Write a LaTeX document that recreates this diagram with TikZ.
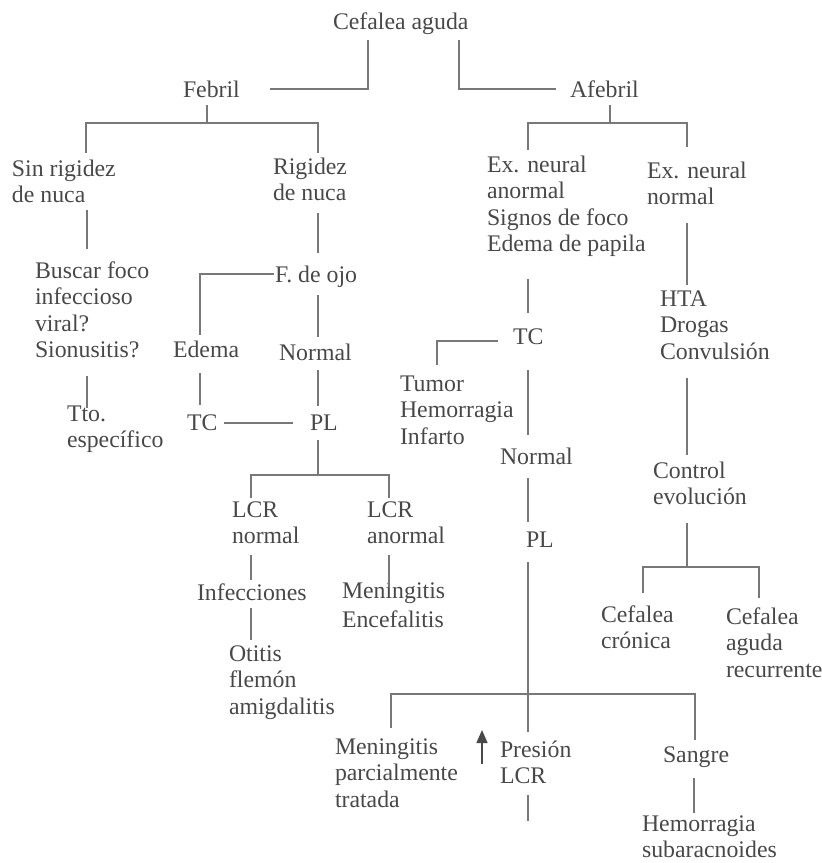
\documentclass[tikz,border=0pt]{standalone}
\usepackage{fontspec}
\setmainfont{Liberation Serif}
\usetikzlibrary{arrows.meta}
\definecolor{inkgray}{RGB}{72,72,72}
\definecolor{wiregray}{RGB}{120,120,120}
\begin{document}
\begin{tikzpicture}[x=1pt,y=-1pt,
  lbl/.style={anchor=north west, inner sep=0pt, outer sep=0pt, yshift=11.5pt,
    align=left, text=inkgray, font=\fontsize{23.8pt}{26.5pt}\selectfont,
    execute at begin node=\strut},
  conn/.style={draw=wiregray, line width=1.4pt}]
\useasboundingbox (0,0) rectangle (822,863);

% ---------- labels ----------
\node[lbl] (root)    at (333,22)  {Cefalea aguda};
\node[lbl] (febril)  at (183,90)  {Febril};
\node[lbl] (afebril) at (570,90)  {Afebril};
\node[lbl] (sinrig)  at (12,171)  {Sin rigidez\\de nuca};
\node[lbl] (rigidez) at (273,169) {Rigidez\\de nuca};
\node[lbl] (buscar)  at (35,273)  {Buscar foco\\infeccioso\\viral?\\Sionusitis?};
\node[lbl] (tto)     at (67,417)  {Tto.\\específico};
\node[lbl] (fojo)    at (275,275) {F. de ojo};
\node[lbl] (edema)   at (173,350) {Edema};
\node[lbl] (normA)   at (279,353) {Normal};
\node[lbl] (tcA)     at (187,423) {TC};
\node[lbl] (plA)     at (310,423) {PL};
\node[lbl] (lcrn)    at (232,513) {LCR\\normal};
\node[lbl] (lcra)    at (367,513) {LCR\\anormal};
\node[lbl] (infec)   at (197,593) {Infecciones};
\node[lbl] (menin)   at (342,594) {Meningitis\\[3pt]Encefalitis};
\node[lbl] (otitis)  at (229,657) {Otitis\\flemón\\amigdalitis};
\node[lbl] (exab)    at (487,167) {Ex. neural\\anormal\\Signos de foco\\Edema de papila};
\node[lbl] (exno)    at (647,173) {Ex. neural\\normal};
\node[lbl] (tcB)     at (513,337) {TC};
\node[lbl] (tumor)   at (400,387) {Tumor\\Hemorragia\\Infarto};
\node[lbl] (normB)   at (500,457) {Normal};
\node[lbl] (plB)     at (526,540) {PL};
\node[lbl] (mpt)     at (335,750) {Meningitis\\parcialmente\\tratada};
\node[lbl] (pres)    at (500,752) {Presión\\LCR};
\node[lbl] (sangre)  at (663,755) {Sangre};
\node[lbl] (hsa)     at (642,827) {Hemorragia\\subaracnoides};
\node[lbl] (hta)     at (660,302) {HTA\\Drogas\\Convulsión};
\node[lbl] (ctrl)    at (653,473) {Control\\evolución};
\node[lbl] (cron)    at (601,617) {Cefalea\\crónica};
\node[lbl] (recu)    at (726,619) {Cefalea\\aguda\\recurrente};

% ---------- connector end points ----------
\path (368,40) coordinate (rootL) (270,89) coordinate (febE)
      (459,40) coordinate (rootR) (556,89) coordinate (afeW)
      (207,105) coordinate (febS) (207,123) coordinate (febJ)
      (86,153) coordinate (sinN) (318,153) coordinate (rigN)
      (87,210) coordinate (sinS) (87,249) coordinate (busN)
      (87,376) coordinate (busS) (87,408) coordinate (ttoN)
      (318,213) coordinate (rigS) (318,253) coordinate (fojN)
      (274,274) coordinate (fojW) (200,335) coordinate (edeN)
      (318,295) coordinate (fojS) (318,337) coordinate (naN)
      (200,373) coordinate (edeS) (200,405) coordinate (tcaN)
      (318,370) coordinate (naS) (318,406) coordinate (plaN)
      (224,423) coordinate (tcaE) (293,423) coordinate (plaW)
      (318,440) coordinate (plaS) (318,475) coordinate (plaJ)
      (251,498) coordinate (lcrnN) (389,498) coordinate (lcraN)
      (251,555) coordinate (lcrnS) (251,580) coordinate (infN)
      (389,555) coordinate (lcraS) (389,587) coordinate (menN)
      (251,608) coordinate (infS) (251,640) coordinate (otiN)
      (610,105) coordinate (afeS) (610,123) coordinate (afeJ)
      (528,150) coordinate (exaN) (687,147) coordinate (exnN)
      (528,279) coordinate (exaS) (528,313) coordinate (tcbN)
      (498,341) coordinate (tcbW) (437,365) coordinate (tumN)
      (528,370) coordinate (tcbS) (528,435) coordinate (nbN)
      (528,478) coordinate (nbS) (528,522) coordinate (plbN)
      (528,562) coordinate (plbS) (528,732) coordinate (presN)
      (528,694) coordinate (plbJ)
      (391,728) coordinate (mptN) (695,740) coordinate (sanN)
      (528,795) coordinate (presS) (528,821) coordinate (presEnd)
      (694,778) coordinate (sanS) (694,813) coordinate (hsaN)
      (687,223) coordinate (exnS) (687,285) coordinate (htaN)
      (687,378) coordinate (htaS) (687,455) coordinate (ctrlN)
      (687,523) coordinate (ctrlS) (687,567) coordinate (ctrlJ)
      (643,593) coordinate (cronN) (759,598) coordinate (recuN)
      (482,764) coordinate (arrB) (482,730) coordinate (arrT);

% ---------- connectors ----------
\draw[conn] (rootL) |- (febE);
\draw[conn] (rootR) |- (afeW);
\draw[conn] (febS) -- (febJ);
\draw[conn] (sinN) -- (sinN |- febJ) -- (rigN |- febJ) -- (rigN);
\draw[conn] (sinS) -- (busN);
\draw[conn] (busS) -- (ttoN);
\draw[conn] (rigS) -- (fojN);
\draw[conn] (fojW) -| (edeN);
\draw[conn] (fojS) -- (naN);
\draw[conn] (edeS) -- (tcaN);
\draw[conn] (naS) -- (plaN);
\draw[conn] (tcaE) -- (plaW);
\draw[conn] (plaS) -- (plaJ);
\draw[conn] (lcrnN) -- (lcrnN |- plaJ) -- (lcraN |- plaJ) -- (lcraN);
\draw[conn] (lcrnS) -- (infN);
\draw[conn] (lcraS) -- (menN);
\draw[conn] (infS) -- (otiN);
\draw[conn] (afeS) -- (afeJ);
\draw[conn] (exaN) -- (exaN |- afeJ) -- (exnN |- afeJ) -- (exnN);
\draw[conn] (exaS) -- (tcbN);
\draw[conn] (tcbW) -| (tumN);
\draw[conn] (tcbS) -- (nbN);
\draw[conn] (nbS) -- (plbN);
\draw[conn] (plbS) -- (presN);
\draw[conn] (mptN) -- (mptN |- plbJ) -- (sanN |- plbJ) -- (sanN);
\draw[conn] (presS) -- (presEnd);
\draw[conn] (sanS) -- (hsaN);
\draw[conn] (exnS) -- (htaN);
\draw[conn] (htaS) -- (ctrlN);
\draw[conn] (ctrlS) -- (ctrlJ);
\draw[conn] (cronN) -- (cronN |- ctrlJ) -- (recuN |- ctrlJ) -- (recuN);
\draw[conn, draw=inkgray, fill=inkgray,
      -{Triangle[width=11pt,length=13pt]}] (arrB) -- (arrT);
\end{tikzpicture}
\end{document}
